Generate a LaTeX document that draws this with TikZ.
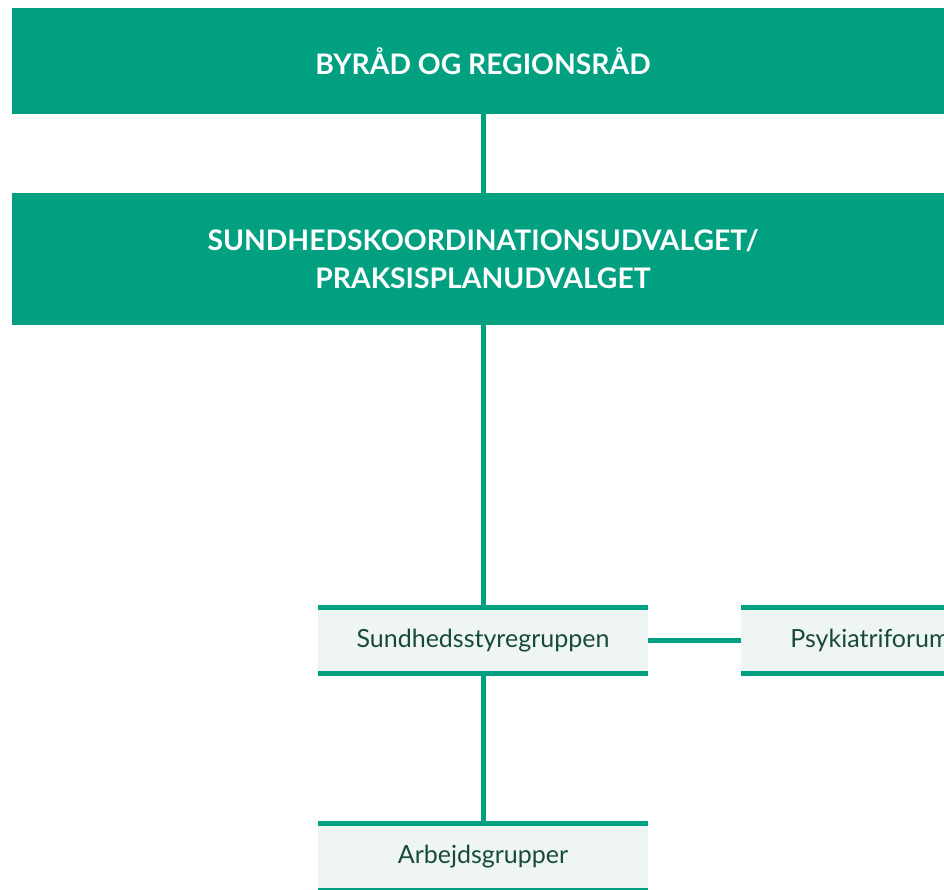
\documentclass[tikz,border=0pt]{standalone}
\usepackage{fontspec}
\setmainfont{Lato}
\definecolor{brand}{HTML}{00A081}
\definecolor{pale}{HTML}{EEF5F2}
\definecolor{ink}{HTML}{184A3C}
\begin{document}
\begin{tikzpicture}[x=1pt,y=-1pt,
  bigbox/.style={fill=brand, text=white, font=\bfseries\fontsize{28.3}{38}\selectfont, align=center, inner sep=0pt, minimum width=942pt},
  smallbox/.style={fill=pale, text=ink, font=\fontsize{25}{28}\selectfont, inner sep=0pt, minimum height=71pt},
  edge/.style={draw=brand, line width=5pt},
  rulebar/.style={draw=brand, line width=5pt}]
\useasboundingbox (0,0) rectangle (944,889);
\clip (0,0) rectangle (944,889);
\node[bigbox, minimum height=106pt] (top) at (483,61) {BYRÅD OG REGIONSRÅD};
\node[bigbox, minimum height=132pt] (mid) at (483,259) {SUNDHEDSKOORDINATIONSUDVALGET/\\PRAKSISPLANUDVALGET};
\node[smallbox, minimum width=330pt] (sty) at (483,640.5) {Sundhedsstyregruppen};
\node[smallbox, minimum width=258pt] (psyk) at (870,640.5) {Psykiatriforum};
\node[smallbox, minimum width=330pt] (arb) at (483,857) {Arbejdsgrupper};
\foreach \n in {sty,psyk,arb}{
  \draw[rulebar] ([yshift=-2.5pt]\n.north west) -- ([yshift=-2.5pt]\n.north east);
  \draw[rulebar] ([yshift=2.5pt]\n.south west) -- ([yshift=2.5pt]\n.south east);
}
\draw[edge] (top.south) -- (mid.north);
\draw[edge] (mid.south) -- (sty.north);
\draw[edge] (sty.east) -- (psyk.west);
\draw[edge] (sty.south) -- (arb.north);
\end{tikzpicture}
\end{document}
